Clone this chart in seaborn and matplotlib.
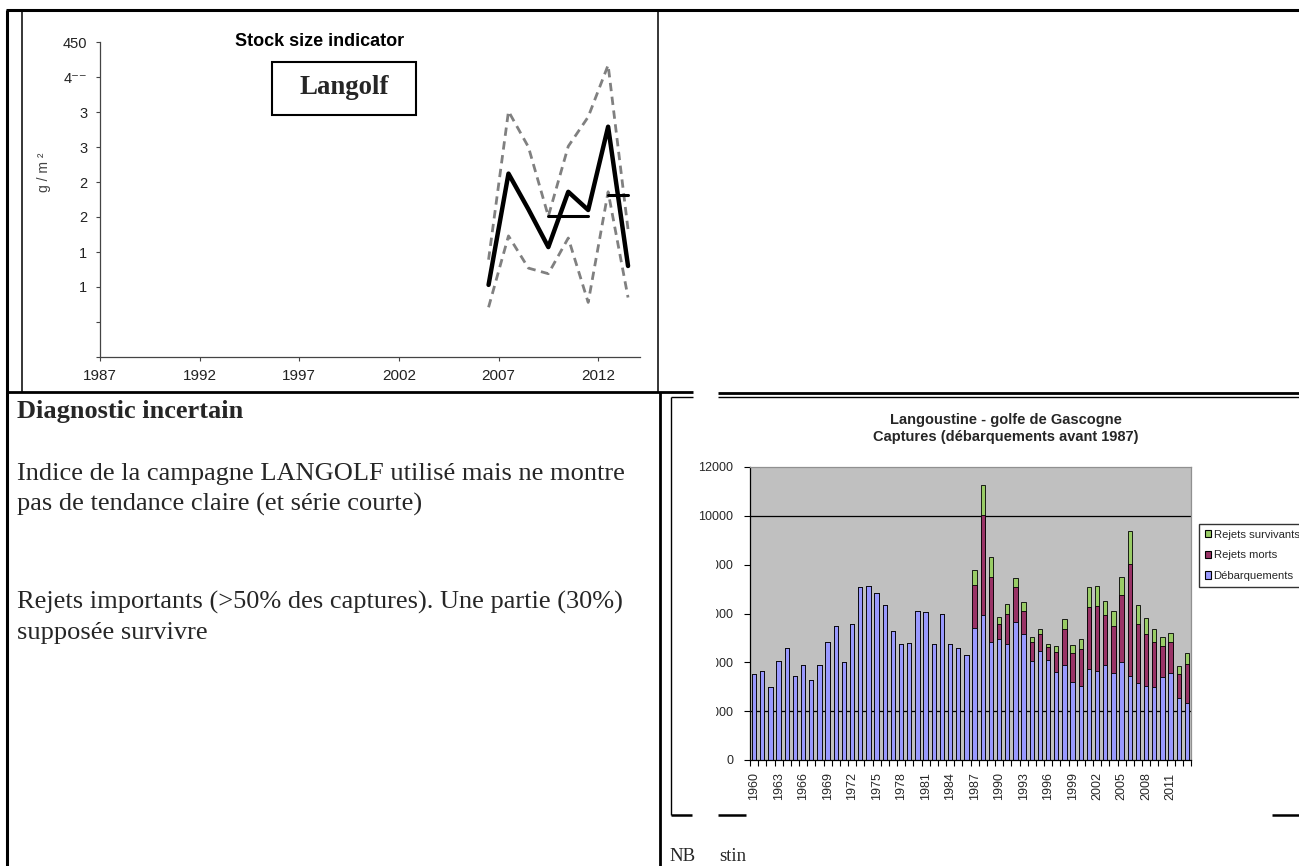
import numpy as np
import pandas as pd
import matplotlib
matplotlib.use("Agg")
import matplotlib.pyplot as plt
import seaborn as sns
from matplotlib.lines import Line2D
from matplotlib.patches import Rectangle, Patch

# ---------------- data : top panel (LANGOLF survey, g / m²) ----------------
survey_years = [2006, 2007, 2008, 2009, 2010, 2011, 2012, 2013]
survey_index = [103, 262, 211, 157, 236, 210, 329, 130]
survey_upper = [139, 351, 300, 201, 301, 343, 417, 182]
survey_lower = [71, 173, 127, 119, 170, 78, 236, 85]
mean_a_years = [2009, 2011]
mean_a_values = [201, 201]
mean_b_years = [2012, 2013]
mean_b_values = [231, 231]
top_xticks = [1987, 1992, 1997, 2002, 2007, 2012]
top_yticks = [0, 50, 100, 150, 200, 250, 300, 350, 400, 450]
top_yticklabels = ["", "", "1", "1", "2", "2", "3", "3", "4\u207b\u207b", "450"]
top_title = "Stock size indicator"
top_box_label = "Langolf"
top_ylabel = "g / m \u00b2"

# ---------------- data : catches panel (tonnes) ----------------
catch_years = list(range(1960, 2014))
landings = [3530, 3630, 3010, 4040, 4600, 3450, 3900, 3260, 3900, 4850,
            5480, 4000, 5560, 7080, 7110, 6820, 6330, 5300, 4740, 4810,
            6120, 6080, 4740, 5960, 4740, 4600, 4320, 5425, 5920, 4840,
            4960, 4770, 5670, 5150, 4070, 4470, 4110, 3620, 3900, 3210,
            3040, 3740, 3660, 3900, 3580, 4030, 3450, 3170, 3030, 3000,
            3410, 3580, 2550, 2340]
dead_discards = [0] * 27 + [1755, 4095, 2640, 620, 1220, 1400, 960, 770, 710,
                            520, 805, 1445, 1175, 1510, 2510, 2655, 2020, 1925,
                            2710, 4565, 2420, 2150, 1850, 1275, 1270, 985, 1605]
surv_discards = [0] * 27 + [590, 1260, 820, 260, 380, 370, 345, 200, 205,
                            140, 245, 435, 340, 425, 820, 795, 575, 580,
                            770, 1355, 740, 655, 535, 370, 370, 330, 455]
series_names = ["Rejets survivants", "Rejets morts", "Débarquements"]
series_colors = ["#99CC66", "#993366", "#9999FF"]
bar_yticks = [0, 2000, 4000, 6000, 8000, 10000, 12000]
bar_title = "Langoustine - golfe de Gascogne\nCaptures (débarquements avant 1987)"

# ---------------- text ----------------
diag_title = "Diagnostic incertain"
diag_lines = ["Indice de la campagne LANGOLF utilisé mais ne montre",
              "pas de tendance claire (et série courte)",
              "Rejets importants (>50% des captures). Une partie (30%)",
              "supposée survivre"]
nb_words = ["NB", "stin"]

# ---------------- figure ----------------
sns.set_style("ticks")
plt.rcParams["font.family"] = ["Liberation Sans", "DejaVu Sans"]
W, H = 1299, 866
fig = plt.figure(figsize=(W / 100, H / 100), dpi=100)
fig.patch.set_facecolor("white")


def fx(x):
    return x / W


def fy(y):
    return 1 - y / H


def line(x0, y0, x1, y1, lw, color="black"):
    fig.add_artist(Line2D([fx(x0), fx(x1)], [fy(y0), fy(y1)],
                          transform=fig.transFigure, color=color, lw=lw,
                          solid_capstyle="butt"))


# ---------- top chart ----------
ax1 = fig.add_axes([fx(100), fy(357), (640 - 100) / W, (357 - 42) / H])
xs = np.array(survey_years) + 0.5
sns.lineplot(x=xs, y=survey_upper, ax=ax1, color="#808080", lw=2.0,
             linestyle=(0, (3, 2)))
sns.lineplot(x=xs, y=survey_lower, ax=ax1, color="#808080", lw=2.0,
             linestyle=(0, (3, 2)))
sns.lineplot(x=xs, y=survey_index, ax=ax1, color="black", lw=3.2)
sns.lineplot(x=np.array(mean_a_years) + 0.5, y=mean_a_values, ax=ax1,
             color="black", lw=2.2)
sns.lineplot(x=np.array(mean_b_years) + 0.5, y=mean_b_values, ax=ax1,
             color="black", lw=2.2)
ax1.set_xlim(1987, 2014.1)
ax1.set_ylim(0, 450)
ax1.set_xticks(top_xticks)
ax1.set_xticklabels([str(t) for t in top_xticks], fontsize=11, color="#222222")
ax1.set_yticks(top_yticks)
ax1.set_yticklabels(top_yticklabels, fontsize=10.5,
                    family=["Liberation Sans", "DejaVu Sans"], color="#222222")
ax1.tick_params(axis="both", direction="out", length=3, width=0.8,
                color="#444444", pad=6)
for s in ["top", "right"]:
    ax1.spines[s].set_visible(False)
for s in ["left", "bottom"]:
    ax1.spines[s].set_color("#444444")
    ax1.spines[s].set_linewidth(0.9)
ax1.set_xlabel("")
ax1.set_ylabel("")
ax1.set_facecolor("white")

fig.text(fx(44), fy(172), top_ylabel, rotation=90, ha="center", va="center",
         fontsize=10, color="#444444")
fig.text(fx(319.5), fy(41), top_title, ha="center", va="center",
         fontsize=13, fontweight="bold", color="black")
fig.add_artist(Rectangle((fx(272), fy(115)), (416 - 272) / W, (115 - 62) / H,
                         transform=fig.transFigure, facecolor="white",
                         edgecolor="black", lw=1.5))
fig.text(fx(344), fy(88), top_box_label, ha="center", va="center",
         fontsize=19.3, fontweight="bold", family="Liberation Serif")

# ---------- bar chart ----------
ax2 = fig.add_axes([fx(750), fy(760), (1191 - 750) / W, (760 - 467) / H])
df = pd.DataFrame({"year": catch_years, "land": landings,
                   "dead": dead_discards, "surv": surv_discards})
df["tot2"] = df["land"] + df["dead"]
df["tot3"] = df["tot2"] + df["surv"]
ax2.axhline(2000, color="black", lw=0.9, zorder=0.5)
ax2.axhline(10000, color="black", lw=0.9, zorder=0.5)
for col, c in zip(["tot3", "tot2", "land"], series_colors):
    sns.barplot(data=df, x="year", y=col, color=c, saturation=1, width=0.55,
                edgecolor="black", linewidth=0.6, errorbar=None, ax=ax2)
ax2.set_facecolor("#C0C0C0")
ax2.set_xlim(-0.5, len(catch_years) - 0.5)
ax2.set_ylim(0, 12000)
ax2.set_yticks(bar_yticks)
ax2.set_yticklabels([str(v) for v in bar_yticks], fontsize=9)
lab_idx = list(range(0, len(catch_years), 3))
ax2.set_xticks(lab_idx)
ax2.set_xticklabels([str(catch_years[i]) for i in lab_idx], rotation=90,
                    fontsize=9)
ax2.set_xticks(np.arange(-0.5, len(catch_years), 1), minor=True)
ax2.tick_params(axis="x", which="major", length=0, pad=9)
ax2.tick_params(axis="x", which="minor", length=4, width=0.8, color="black",
                direction="out")
ax2.tick_params(axis="y", length=4, width=0.8, color="black", direction="out",
                pad=8)
ax2.set_xlabel("")
ax2.set_ylabel("")
ax2.spines["left"].set_color("black")
ax2.spines["bottom"].set_color("black")
ax2.spines["top"].set_color("#909090")
ax2.spines["right"].set_color("#909090")
for s in ax2.spines.values():
    s.set_linewidth(0.9)
    s.set_visible(True)

fig.text(fx(1006), fy(428.5), bar_title, ha="center", va="center",
         fontsize=10.5, fontweight="bold", linespacing=1.3)

handles = [Patch(facecolor=c, edgecolor="black", lw=0.8) for c in series_colors]
leg = fig.legend(handles, series_names, loc="upper left",
                 bbox_to_anchor=(fx(1199), fy(524)), frameon=True,
                 fancybox=False, edgecolor="black", fontsize=8.1,
                 handlelength=0.6, handleheight=0.6, handletextpad=0.2,
                 labelspacing=0.95, borderpad=0.5, borderaxespad=0)
leg.get_frame().set_linewidth(1.0)

# mask hiding the left part of some y tick labels (as in the scan)
fig.add_artist(Rectangle((fx(673), fy(722)), (716 - 673) / W, (722 - 528) / H,
                         transform=fig.transFigure, facecolor="white",
                         edgecolor="none", zorder=10))

# ---------- text block ----------
fig.text(fx(17), fy(418), diag_title, ha="left", va="baseline", fontsize=19,
         fontweight="bold", family="Liberation Serif")
for txt, yb in zip(diag_lines, [480, 511, 609, 639]):
    fig.text(fx(17), fy(yb), txt, ha="left", va="baseline", fontsize=19,
             family="Liberation Serif")

for word, xp in zip(nb_words, [669, 719]):
    fig.text(fx(xp), fy(865), word, ha="left", va="bottom", fontsize=13.5,
             family="Liberation Serif")

# ---------- page frame lines ----------
line(6, 10, W, 10, 2.2)           # top
line(7, 10, 7, H, 2.2)            # outer left
line(22, 10, 22, 392, 1.1)        # inner left of top chart
line(658, 10, 658, 392, 1.1)      # right of top chart
line(7, 392, 693, 392, 2.0)       # under top chart
line(718, 393, W, 393, 2.0)
line(671, 397, 693, 397, 1.0)
line(718, 397, W, 397, 1.0)
line(660, 392, 660, H, 2.0)       # divider
line(671, 397, 671, 815, 1.0)     # chart frame left
line(671, 815, 692, 815, 1.8)
line(718, 815, 746, 815, 1.8)
line(1272, 815, W, 815, 1.8)

fig.savefig("out.png", dpi=100)
